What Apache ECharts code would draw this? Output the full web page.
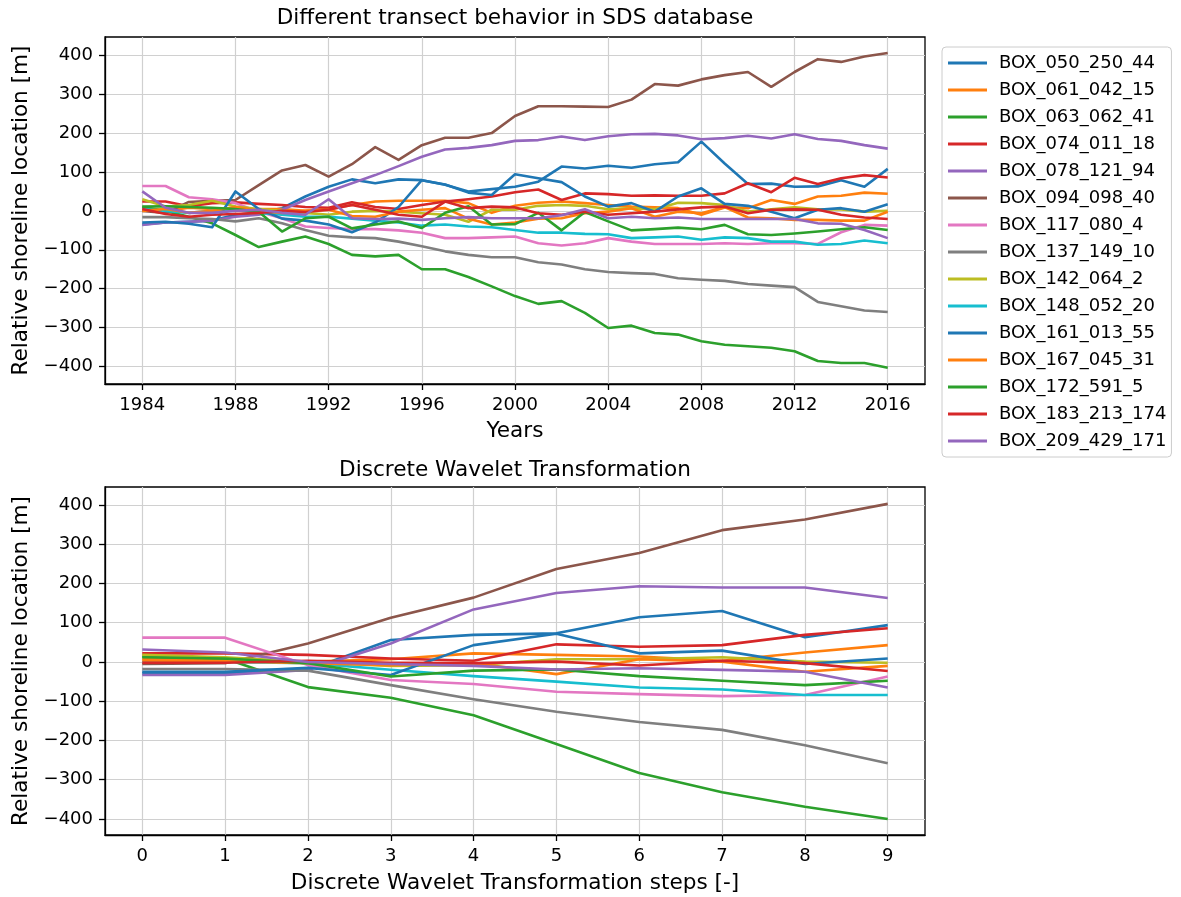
<!DOCTYPE html>
<html><head><meta charset="utf-8">
<script src="https://cdn.jsdelivr.net/npm/echarts@6/dist/echarts.min.js"></script>
<style>html,body{margin:0;padding:0;background:#fff}#c{width:1181px;height:897px}</style>
</head><body><div id="c"></div>
<script>
// ---------- data ----------
const names = ['BOX_050_250_44','BOX_061_042_15','BOX_063_062_41','BOX_074_011_18','BOX_078_121_94',
  'BOX_094_098_40','BOX_117_080_4','BOX_137_149_10','BOX_142_064_2','BOX_148_052_20',
  'BOX_161_013_55','BOX_167_045_31','BOX_172_591_5','BOX_183_213_174','BOX_209_429_171'];
const years = [1984,1985,1986,1987,1988,1989,1990,1991,1992,1993,1994,1995,1996,1997,1998,1999,2000,
  2001,2002,2003,2004,2005,2006,2007,2008,2009,2010,2011,2012,2013,2014,2015,2016];
const steps = [0,1,2,3,4,5,6,7,8,9];
const yearTicks = [1984,1988,1992,1996,2000,2004,2008,2012,2016];
const stepTicks = [0,1,2,3,4,5,6,7,8,9];
const yTicks = [-400,-300,-200,-100,0,100,200,300,400];

// SDS database (one value per year)
const sds_050_250_44 = [-35,-30,-28,-25,-10,-5,7,37,62,81,71,81,79,67,50,56,62,75,114,109,116,111,120,125,178,122,69,70,62,63,79,62,108];
const sds_061_042_15 = [5,0,8,5,0,5,5,0,5,15,24,26,26,26,20,-5,13,21,24,20,15,11,9,7,-10,9,7,28,18,37,39,47,44];
const sds_063_062_41 = [10,0,-15,-32,-62,-93,-79,-66,-85,-113,-117,-113,-150,-150,-170,-194,-219,-239,-232,-262,-301,-295,-314,-318,-335,-344,-348,-352,-361,-386,-391,-391,-403];
const sds_074_011_18 = [24,24,12,20,22,18,15,10,8,22,10,5,15,24,30,37,48,55,28,45,43,39,40,39,39,45,71,48,85,69,84,92,86];
const sds_078_121_94 = [-36,-30,-28,-25,-15,-10,3,28,50,71,92,115,139,158,162,169,180,182,191,182,192,197,198,194,184,187,193,186,197,185,180,169,160];
const sds_094_098_40 = [0,-5,23,26,28,66,104,118,88,120,164,131,169,188,188,200,244,269,269,268,267,286,326,322,338,349,357,319,357,390,383,397,406];
const sds_117_080_4 = [64,64,35,30,20,-2,-19,-40,-44,-47,-47,-50,-56,-70,-70,-68,-66,-83,-89,-83,-70,-79,-85,-85,-85,-83,-85,-83,-83,-85,-55,-36,-38];
const sds_137_149_10 = [-16,-16,-19,-21,-27,-19,-32,-49,-64,-68,-70,-79,-91,-104,-113,-119,-119,-132,-138,-150,-157,-160,-162,-173,-177,-180,-188,-192,-196,-234,-245,-256,-260];
const sds_142_064_2 = [30,11,15,26,11,5,0,-5,-10,-2,0,-2,-6,-10,-28,3,3,13,15,13,4,7,4,21,20,15,-2,4,9,4,4,-2,0];
const sds_148_052_20 = [5,0,-5,0,5,-5,-10,-15,-15,-20,-25,-30,-38,-35,-40,-42,-49,-56,-56,-59,-60,-70,-68,-66,-74,-68,-70,-79,-79,-87,-85,-76,-83];
const sds_161_013_55 = [-30,-28,-33,-42,50,5,-20,-25,-35,-55,-30,10,79,68,47,41,94,84,74,37,11,20,-2,37,58,18,13,-2,-19,3,7,-2,17];
const sds_167_045_31 = [0,5,-5,0,10,0,-5,0,3,-13,-15,-2,3,7,-20,-35,-30,-20,-19,-6,-2,7,-15,-2,-6,10,-17,-19,-23,-23,-25,-25,-2];
const sds_172_591_5 = [11,12,10,8,5,-2,-53,-19,-15,-45,-35,-27,-44,-5,12,-35,-34,-5,-50,-3,-27,-50,-47,-43,-47,-36,-60,-62,-58,-53,-47,-42,-49];
const sds_183_213_174 = [5,-8,-15,-10,-8,-5,0,-3,3,15,3,-10,-15,24,7,11,9,-6,-10,-2,-10,-6,-2,4,9,11,-6,3,4,3,-10,-17,-21];
const sds_209_429_171 = [50,8,-5,-5,0,3,-5,-10,30,-19,-21,-20,-23,-19,-16,-19,-19,-19,-11,4,-19,-15,-19,-17,-21,-21,-21,-21,-21,-32,-33,-49,-70];

// Discrete Wavelet Transformation (one value per step)
const dwt_050_250_44 = [-29,-29,-20,56,69,73,114,130,63,94];
const dwt_061_042_15 = [9,8,1,7,22,18,14,3,24,43];
const dwt_063_062_41 = [14,9,-64,-91,-136,-209,-283,-332,-369,-400];
const dwt_074_011_18 = [22,22,18,9,3,45,39,43,69,86];
const dwt_078_121_94 = [-33,-33,-20,47,134,176,193,190,190,163];
const dwt_094_098_40 = [-5,-3,47,113,164,237,278,336,363,403];
const dwt_117_080_4 = [62,62,-8,-46,-56,-76,-82,-87,-84,-37];
const dwt_137_149_10 = [-18,-18,-22,-59,-95,-127,-153,-173,-212,-258];
const dwt_142_064_2 = [18,12,0,-10,-8,7,7,12,1,-2];
const dwt_148_052_20 = [0,0,-3,-20,-36,-50,-65,-70,-84,-84];
const dwt_161_013_55 = [-25,-25,-15,-33,43,72,22,29,-5,9];
const dwt_167_045_31 = [4,2,-3,-8,-3,-31,7,1,-25,-10];
const dwt_172_591_5 = [12,9,-3,-37,-22,-19,-36,-48,-59,-48];
const dwt_183_213_174 = [-2,-2,3,-2,-3,1,-9,3,-3,-23];
const dwt_209_429_171 = [32,24,0,-5,-10,-19,-16,-20,-25,-65];

const sdsSeries = [sds_050_250_44,sds_061_042_15,sds_063_062_41,sds_074_011_18,sds_078_121_94,sds_094_098_40,
  sds_117_080_4,sds_137_149_10,sds_142_064_2,sds_148_052_20,sds_161_013_55,sds_167_045_31,sds_172_591_5,
  sds_183_213_174,sds_209_429_171];
const dwtSeries = [dwt_050_250_44,dwt_061_042_15,dwt_063_062_41,dwt_074_011_18,dwt_078_121_94,dwt_094_098_40,
  dwt_117_080_4,dwt_137_149_10,dwt_142_064_2,dwt_148_052_20,dwt_161_013_55,dwt_167_045_31,dwt_172_591_5,
  dwt_183_213_174,dwt_209_429_171];

// ---------- style ----------
const tab10 = ['#1f77b4','#ff7f0e','#2ca02c','#d62728','#9467bd','#8c564b','#e377c2','#7f7f7f','#bcbd22','#17becf'];
const FONT = 'DejaVu Sans';
const fmt = v => v < 0 ? '\u2212' + (-v) : String(v);

function axis(extra, ticks, formatter) {
  return Object.assign({
    type: 'value',
    axisLine: {show: true, onZero: false, lineStyle: {color: '#000', width: 1.3}},
    axisTick: {show: true, length: 6, customValues: ticks, lineStyle: {color: '#000', width: 1.3}},
    axisLabel: {customValues: ticks, color: '#000', fontSize: 18, fontFamily: FONT, margin: 12, formatter: formatter},
    splitLine: {show: true, lineStyle: {color: '#d0d0d0', width: 1.2}},
    nameLocation: 'middle',
    nameTextStyle: {color: '#000', fontSize: 21.6, fontFamily: FONT}
  }, extra);
}

const series = [];
names.forEach((n, i) => {
  series.push({
    name: n, type: 'line', xAxisIndex: 0, yAxisIndex: 0, symbol: 'none', showSymbol: false,
    color: tab10[i % 10], lineStyle: {width: 2.6, join: 'round'},
    data: years.map((y, k) => [y, sdsSeries[i][k]])
  });
});
names.forEach((n, i) => {
  series.push({
    name: n, type: 'line', xAxisIndex: 1, yAxisIndex: 1, symbol: 'none', showSymbol: false,
    color: tab10[i % 10], lineStyle: {width: 2.6, join: 'round'},
    data: steps.map((s, k) => [s, dwtSeries[i][k]])
  });
});

const chart = echarts.init(document.getElementById('c'), null, {renderer: 'canvas'});
chart.setOption({
  animation: false,
  backgroundColor: '#fff',
  textStyle: {fontFamily: FONT},
  title: [
    {text: 'Different transect behavior in SDS database', left: 515, top: 7, textAlign: 'center', padding: 0,
     textStyle: {color: '#000', fontSize: 21.6, fontWeight: 'normal', fontFamily: FONT}},
    {text: 'Discrete Wavelet Transformation', left: 515, top: 459, textAlign: 'center', padding: 0,
     textStyle: {color: '#000', fontSize: 21.6, fontWeight: 'normal', fontFamily: FONT}}
  ],
  grid: [
    {left: 105, top: 37, width: 820, height: 347, show: true, borderColor: '#000', borderWidth: 1.3, containLabel: false},
    {left: 105, top: 487, width: 820, height: 348, show: true, borderColor: '#000', borderWidth: 1.3, containLabel: false}
  ],
  xAxis: [
    axis({gridIndex: 0, min: 1982.4, max: 2017.6, name: 'Years', nameGap: 36}, yearTicks, v => String(v)),
    axis({gridIndex: 1, min: -0.45, max: 9.45, name: 'Discrete Wavelet Transformation steps [-]', nameGap: 37}, stepTicks, v => String(v))
  ],
  yAxis: [
    axis({gridIndex: 0, min: -445, max: 447, name: 'Relative shoreline location [m]', nameGap: 70}, yTicks, fmt),
    axis({gridIndex: 1, min: -441, max: 446, name: 'Relative shoreline location [m]', nameGap: 70}, yTicks, fmt)
  ],
  legend: {
    data: names, orient: 'vertical', left: 942, top: 47,
    icon: 'rect', itemWidth: 39, itemHeight: 3, itemGap: 9,
    padding: [7, 5, 7, 6],
    borderColor: '#cccccc', borderWidth: 1, borderRadius: 4,
    textStyle: {color: '#000', fontSize: 18, fontFamily: FONT, padding: [0, 0, 0, 7]}
  },
  series: series
});
</script>
</body></html>
